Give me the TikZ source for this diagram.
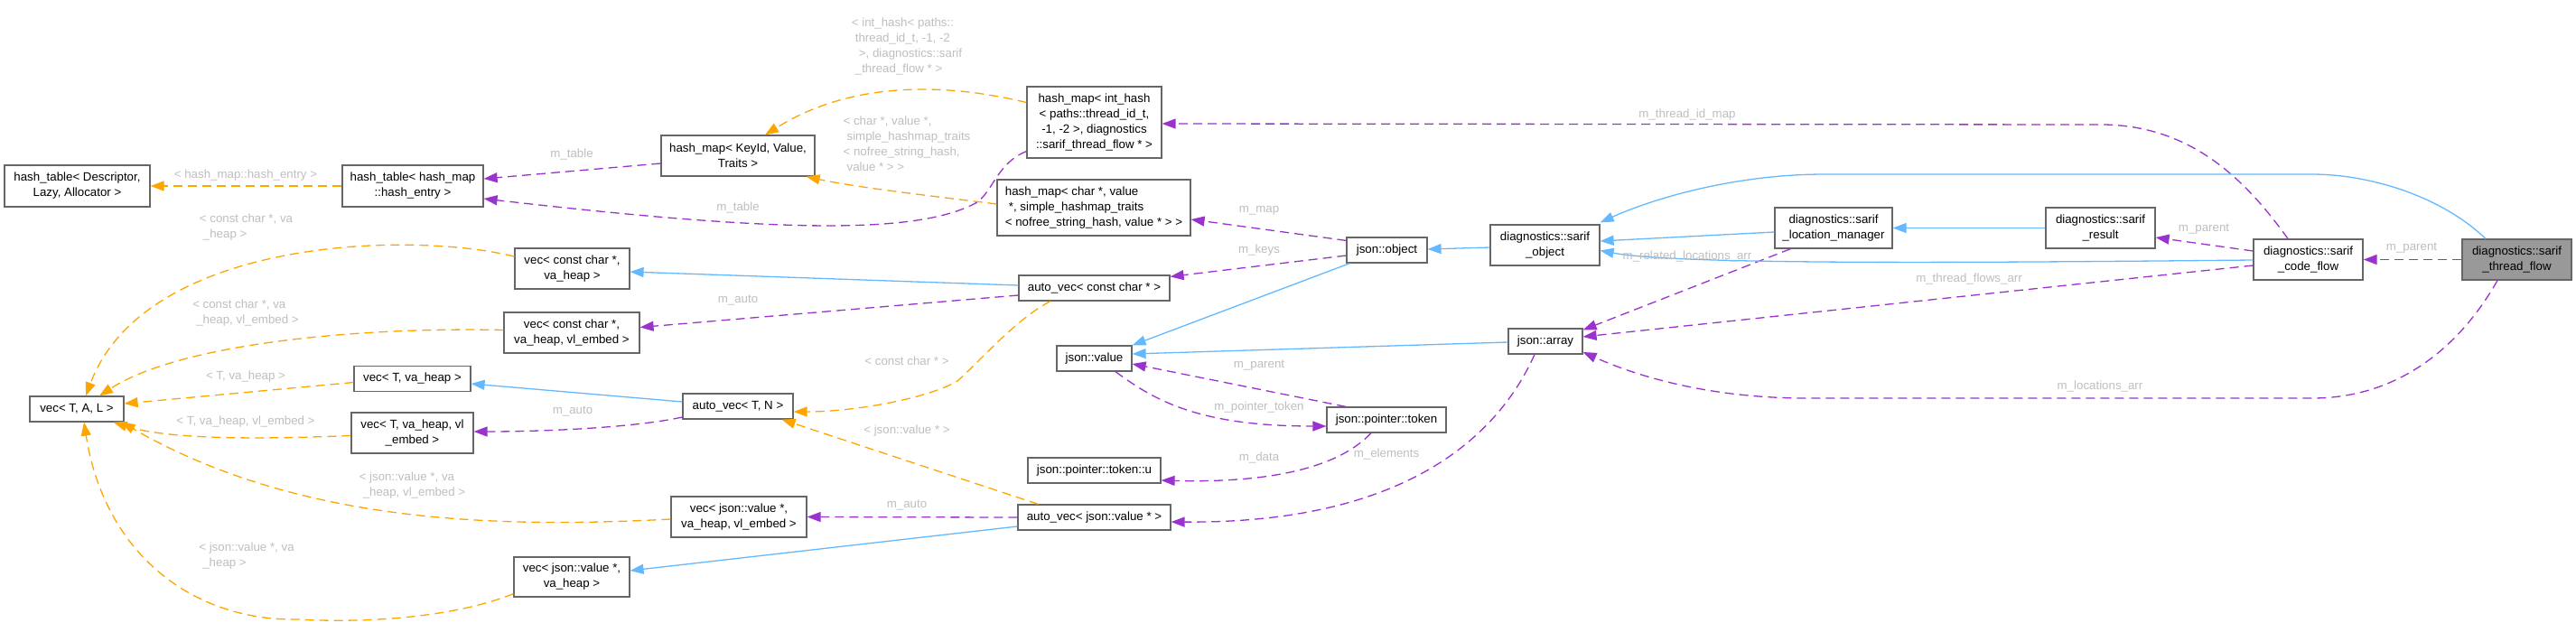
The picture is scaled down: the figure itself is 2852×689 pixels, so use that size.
\documentclass[tikz,border=0pt]{standalone}
\usepackage{fontspec}
\setmainfont{Liberation Sans}
\usetikzlibrary{arrows.meta,calc}
\definecolor{edgeblue}{HTML}{63B8FF}
\definecolor{edgeorange}{HTML}{FFA500}
\definecolor{edgepurple}{HTML}{9A32CD}
\definecolor{lblgray}{HTML}{BEBEBE}
\definecolor{bordergray}{HTML}{666666}
\definecolor{focusgray}{HTML}{999999}
\newcommand\dfont{\fontsize{13.3}{17}\selectfont}
\newcommand\ind{\hspace*{4pt}}
\begin{document}
\begin{tikzpicture}[x=1pt,y=-1pt,
  cls/.style={draw=bordergray, line width=1.2pt, fill=white, inner sep=0pt, align=center, font=\dfont, text=black},
  lbl/.style={text=lblgray, font=\dfont, inner sep=0pt, align=left},
  inh/.style={draw=edgeblue, line width=1.3pt, -{Triangle[length=15pt,width=11pt]}},
  tpl/.style={draw=edgeorange, line width=1.3pt, dash pattern=on 10pt off 6pt, -{Triangle[length=15pt,width=11pt]}},
  usg/.style={draw=edgepurple, line width=1.3pt, dash pattern=on 10pt off 6pt, -{Triangle[length=15pt,width=11pt]}}
]
\path[use as bounding box] (0,0) rectangle (2852,689);

% nodes
\node[cls, minimum width=161pt, minimum height=46pt] (htD) at (85.5,206) {hash\_table< Descriptor,\\Lazy, Allocator >};
\node[cls, minimum width=156pt, minimum height=46pt] (htH) at (457,206) {hash\_table< hash\_map\\::hash\_entry >};
\node[cls, minimum width=170pt, minimum height=45pt] (hmK) at (817,172.5) {hash\_map< KeyId, Value,\\Traits >};
\node[cls, minimum width=149pt, minimum height=79pt] (hmI) at (1211.5,135.5) {hash\_map< int\_hash\\< paths::thread\_id\_t,\\-1, -2 >, diagnostics\\::sarif\_thread\_flow * >};
\node[cls, align=left, minimum width=214pt, minimum height=62pt] (hmC) at (1211,230) {hash\_map< char *, value\\\ind *, simple\_hashmap\_traits\\< nofree\_string\_hash, value * > >};
\node[cls, minimum width=89pt, minimum height=28pt] (jobj) at (1535.5,277) {json::object};
\node[cls, minimum width=167pt, minimum height=28pt] (acc) at (1211.5,319) {auto\_vec< const char * >};
\node[cls, minimum width=127pt, minimum height=45pt] (vcc) at (633.5,297.5) {vec< const char *,\\va\_heap >};
\node[cls, minimum width=150pt, minimum height=45pt] (vcce) at (633,368.5) {vec< const char *,\\va\_heap, vl\_embed >};
\node[cls, minimum width=104pt, minimum height=28pt] (vTAL) at (85,453) {vec< T, A, L >};
\node[cls, minimum width=129pt, minimum height=28pt] (vTh) at (456.5,419.5) {vec< T, va\_heap >};
\node[cls, minimum width=135pt, minimum height=45pt] (vThe) at (456.5,479.5) {vec< T, va\_heap, vl\\\_embed >};
\node[cls, minimum width=122pt, minimum height=28pt] (avTN) at (817,450) {auto\_vec< T, N >};
\node[cls, minimum width=83pt, minimum height=28pt] (jval) at (1211.5,397) {json::value};
\node[cls, minimum width=82pt, minimum height=28pt] (jarr) at (1711,378) {json::array};
\node[cls, minimum width=132pt, minimum height=28pt] (jpt) at (1535,465) {json::pointer::token};
\node[cls, minimum width=147pt, minimum height=28pt] (jptu) at (1211.5,521) {json::pointer::token::u};
\node[cls, minimum width=169pt, minimum height=28pt] (avjv) at (1211.5,573) {auto\_vec< json::value * >};
\node[cls, minimum width=150pt, minimum height=45pt] (vjve) at (818,572.5) {vec< json::value *,\\va\_heap, vl\_embed >};
\node[cls, minimum width=128pt, minimum height=44pt] (vjv) at (633,639) {vec< json::value *,\\va\_heap >};
\node[cls, minimum width=121pt, minimum height=45pt] (sobj) at (1710.5,271.5) {diagnostics::sarif\\\_object};
\node[cls, minimum width=130pt, minimum height=45pt] (slm) at (2030,252.5) {diagnostics::sarif\\\_location\_manager};
\node[cls, minimum width=121pt, minimum height=45pt] (sres) at (2325.5,252.5) {diagnostics::sarif\\\_result};
\node[cls, minimum width=121pt, minimum height=45pt] (scf) at (2555.5,287.5) {diagnostics::sarif\\\_code\_flow};
\node[cls, fill=focusgray, minimum width=121pt, minimum height=45pt] (stf) at (2786.5,287.5) {diagnostics::sarif\\\_thread\_flow};

% template edges (orange)
\draw[tpl] (htH.west) -- (htD.east);
\draw[tpl] ($(vcc.west)+(0,-13.5)$) .. controls (450,255) and (160,265) .. ($(vTAL.north)+(10,0)$);
\draw[tpl] ($(vcce.west)+(0,-3)$) .. controls (400,362) and (200,380) .. ($(vTAL.north)+(25,0)$);
\draw[tpl] ($(vTh.west)+(0,4)$) -- ($(vTAL.east)+(0,-6)$);
\draw[tpl] ($(vThe.west)+(0,3)$) .. controls (300,486) and (190,488) .. ($(vTAL.south east)+(-12,0)$);
\draw[tpl] ($(vjve.west)+(0,2.5)$) .. controls (550,585) and (330,580) .. ($(vTAL.south east)+(-3,0)$);
\draw[tpl] ($(vjv.south west)+(0,-4)$) .. controls (500,685) and (400,690) .. (330,686) .. controls (210,688) and (115,610) .. ($(vTAL.south)+(8,0)$);
\draw[tpl] ($(acc.south)+(-48.5,0)$) .. controls (1125,353) and (1085,400) .. (1060,422) .. controls (1030,440) and (950,456) .. ($(avTN.east)+(0,6)$);
\draw[tpl] ($(avjv.north)+(-62,0)$) -- ($(avTN.south east)+(-13,0)$);
\draw[tpl] ($(hmI.west)+(0,-22)$) .. controls (1060,95) and (950,85) .. ($(hmK.north)+(30,0)$);
\draw[tpl] ($(hmC.west)+(0,-4)$) .. controls (1040,218) and (950,208) .. ($(hmK.south east)+(-10,0)$);

% usage edges (purple)
\draw[usg] ($(hmK.west)+(0,8.5)$) -- ($(htH.east)+(0,-8)$);
\draw[usg] ($(hmI.south west)+(0,-8)$) .. controls (1105,180) and (1100,210) .. (1082,224) .. controls (1020,258) and (880,260) .. ($(htH.east)+(0,14)$);
\draw[usg] ($(jobj.north west)+(0,4)$) -- ($(hmC.east)+(0,13)$);
\draw[usg] ($(jobj.west)+(0,6)$) -- ($(acc.north east)+(0,2)$);
\draw[usg] ($(acc.west)+(0,8)$) -- ($(vcce.east)+(0,-6)$);
\draw[usg] ($(avTN.west)+(0,12)$) .. controls (700,474) and (600,478) .. ($(vThe.east)+(0,-1.5)$);
\draw[usg] (avjv.west) -- (vjve.east);
\draw[usg] ($(jpt.north)+(-45,0)$) -- ($(jval.east)+(0,6)$);
\draw[usg] ($(jval.south)+(23.5,0)$) .. controls (1280,445) and (1330,472) .. ($(jpt.west)+(0,7)$);
\draw[usg] ($(jpt.south)+(-17,0)$) .. controls (1480,520) and (1400,535) .. ($(jptu.east)+(0,11)$);
\draw[usg] ($(jarr.south)+(-12,0)$) .. controls (1660,480) and (1560,580) .. ($(avjv.east)+(0,5)$);
\draw[usg] ($(scf.north)+(-22.5,0)$) .. controls (2480,190) and (2420,140) .. (2330,138) -- ($(hmI.east)+(0,1.5)$);
\draw[usg] ($(slm.south west)+(18,0)$) -- ($(jarr.north east)+(0,2)$);
\draw[usg] ($(scf.west)+(0,6.5)$) -- ($(jarr.east)+(0,-5)$);
\draw[usg] ($(stf.south)+(-21.5,0)$) .. controls (2720,390) and (2650,441) .. (2560,441) -- (2000,441) .. controls (1900,441) and (1820,420) .. ($(jarr.east)+(0,12)$);
\draw[usg] ($(scf.west)+(0,-9.5)$) -- ($(sres.east)+(0,10.5)$);
\draw[usg] (stf.west) -- (scf.east);

% inheritance edges (blue)
\draw[inh] ($(acc.west)+(0,-3)$) -- ($(vcc.east)+(0,3.5)$);
\draw[inh] ($(avTN.west)+(0,-5)$) -- ($(vTh.east)+(0,5.5)$);
\draw[inh] ($(avjv.west)+(0,10)$) -- ($(vjv.east)+(0,-7)$);
\draw[inh] ($(jobj.south west)+(4,0)$) -- (jval.north east);
\draw[inh] ($(jarr.west)+(0,1)$) -- ($(jval.east)+(0,-5)$);
\draw[inh] ($(sobj.west)+(0,2.5)$) -- ($(jobj.east)+(0,-1)$);
\draw[inh] ($(slm.west)+(0,4.5)$) -- ($(sobj.east)+(0,-4.5)$);
\draw[inh] (sres.west) -- (slm.east);
\draw[inh] ($(scf.west)+(0,0.5)$) .. controls (2100,292) and (1850,292) .. ($(sobj.east)+(0,6)$);
\draw[inh] ($(stf.north)+(-34.5,0)$) .. controls (2700,215) and (2620,193) .. (2560,193) -- (2020,193) .. controls (1920,193) and (1830,220) .. ($(sobj.north east)+(0,-2)$);

% edge labels
\node[lbl] (l1) at (272,194) {< hash\_map::hash\_entry >};
\node[lbl] (l2) at (272.5,252) {< const char *, va\\\ind\_heap >};
\node[lbl] (l3) at (272,347) {< const char *, va\\\ind\_heap, vl\_embed >};
\node[lbl] (l4) at (272,417) {< T, va\_heap >};
\node[lbl] (l5) at (272,467) {< T, va\_heap, vl\_embed >};
\node[lbl] (l6) at (456.5,538) {< json::value *, va\\\ind\_heap, vl\_embed >};
\node[lbl] (l7) at (273,615.5) {< json::value *, va\\\ind\_heap >};
\node[lbl] (l8) at (1004,400) {< const char * >};
\node[lbl] (l9) at (1004,477) {< json::value * >};
\node[lbl] (l10) at (1004,51.5) {< int\_hash< paths::\\\ind thread\_id\_t, -1, -2\\\ind\ind >, diagnostics::sarif\\\ind\_thread\_flow * >};
\node[lbl] (l11) at (1004,159) {< char *, value *,\\\ind simple\_hashmap\_traits\\< nofree\_string\_hash,\\\ind value * > >};
\node[lbl] (m1) at (633,171) {m\_table};
\node[lbl] (m2) at (817,230) {m\_table};
\node[lbl] (m3) at (1394,233) {m\_map};
\node[lbl] (m4) at (1394,277) {m\_keys};
\node[lbl] (m5) at (817,333) {m\_auto};
\node[lbl] (m6) at (634,456) {m\_auto};
\node[lbl] (m7) at (1004,560) {m\_auto};
\node[lbl] (m8) at (1394,405) {m\_parent};
\node[lbl] (m9) at (1394,451) {m\_pointer\_token};
\node[lbl] (m10) at (1394,507) {m\_data};
\node[lbl] (m11) at (1535,503) {m\_elements};
\node[lbl] (m12) at (1868,127) {m\_thread\_id\_map};
\node[lbl] (m13) at (1868,284) {m\_related\_locations\_arr};
\node[lbl] (m14) at (2180,309) {m\_thread\_flows\_arr};
\node[lbl] (m15) at (2325,428) {m\_locations\_arr};
\node[lbl] (m16) at (2440,254) {m\_parent};
\node[lbl] (m17) at (2670,275) {m\_parent};
\end{tikzpicture}
\end{document}
